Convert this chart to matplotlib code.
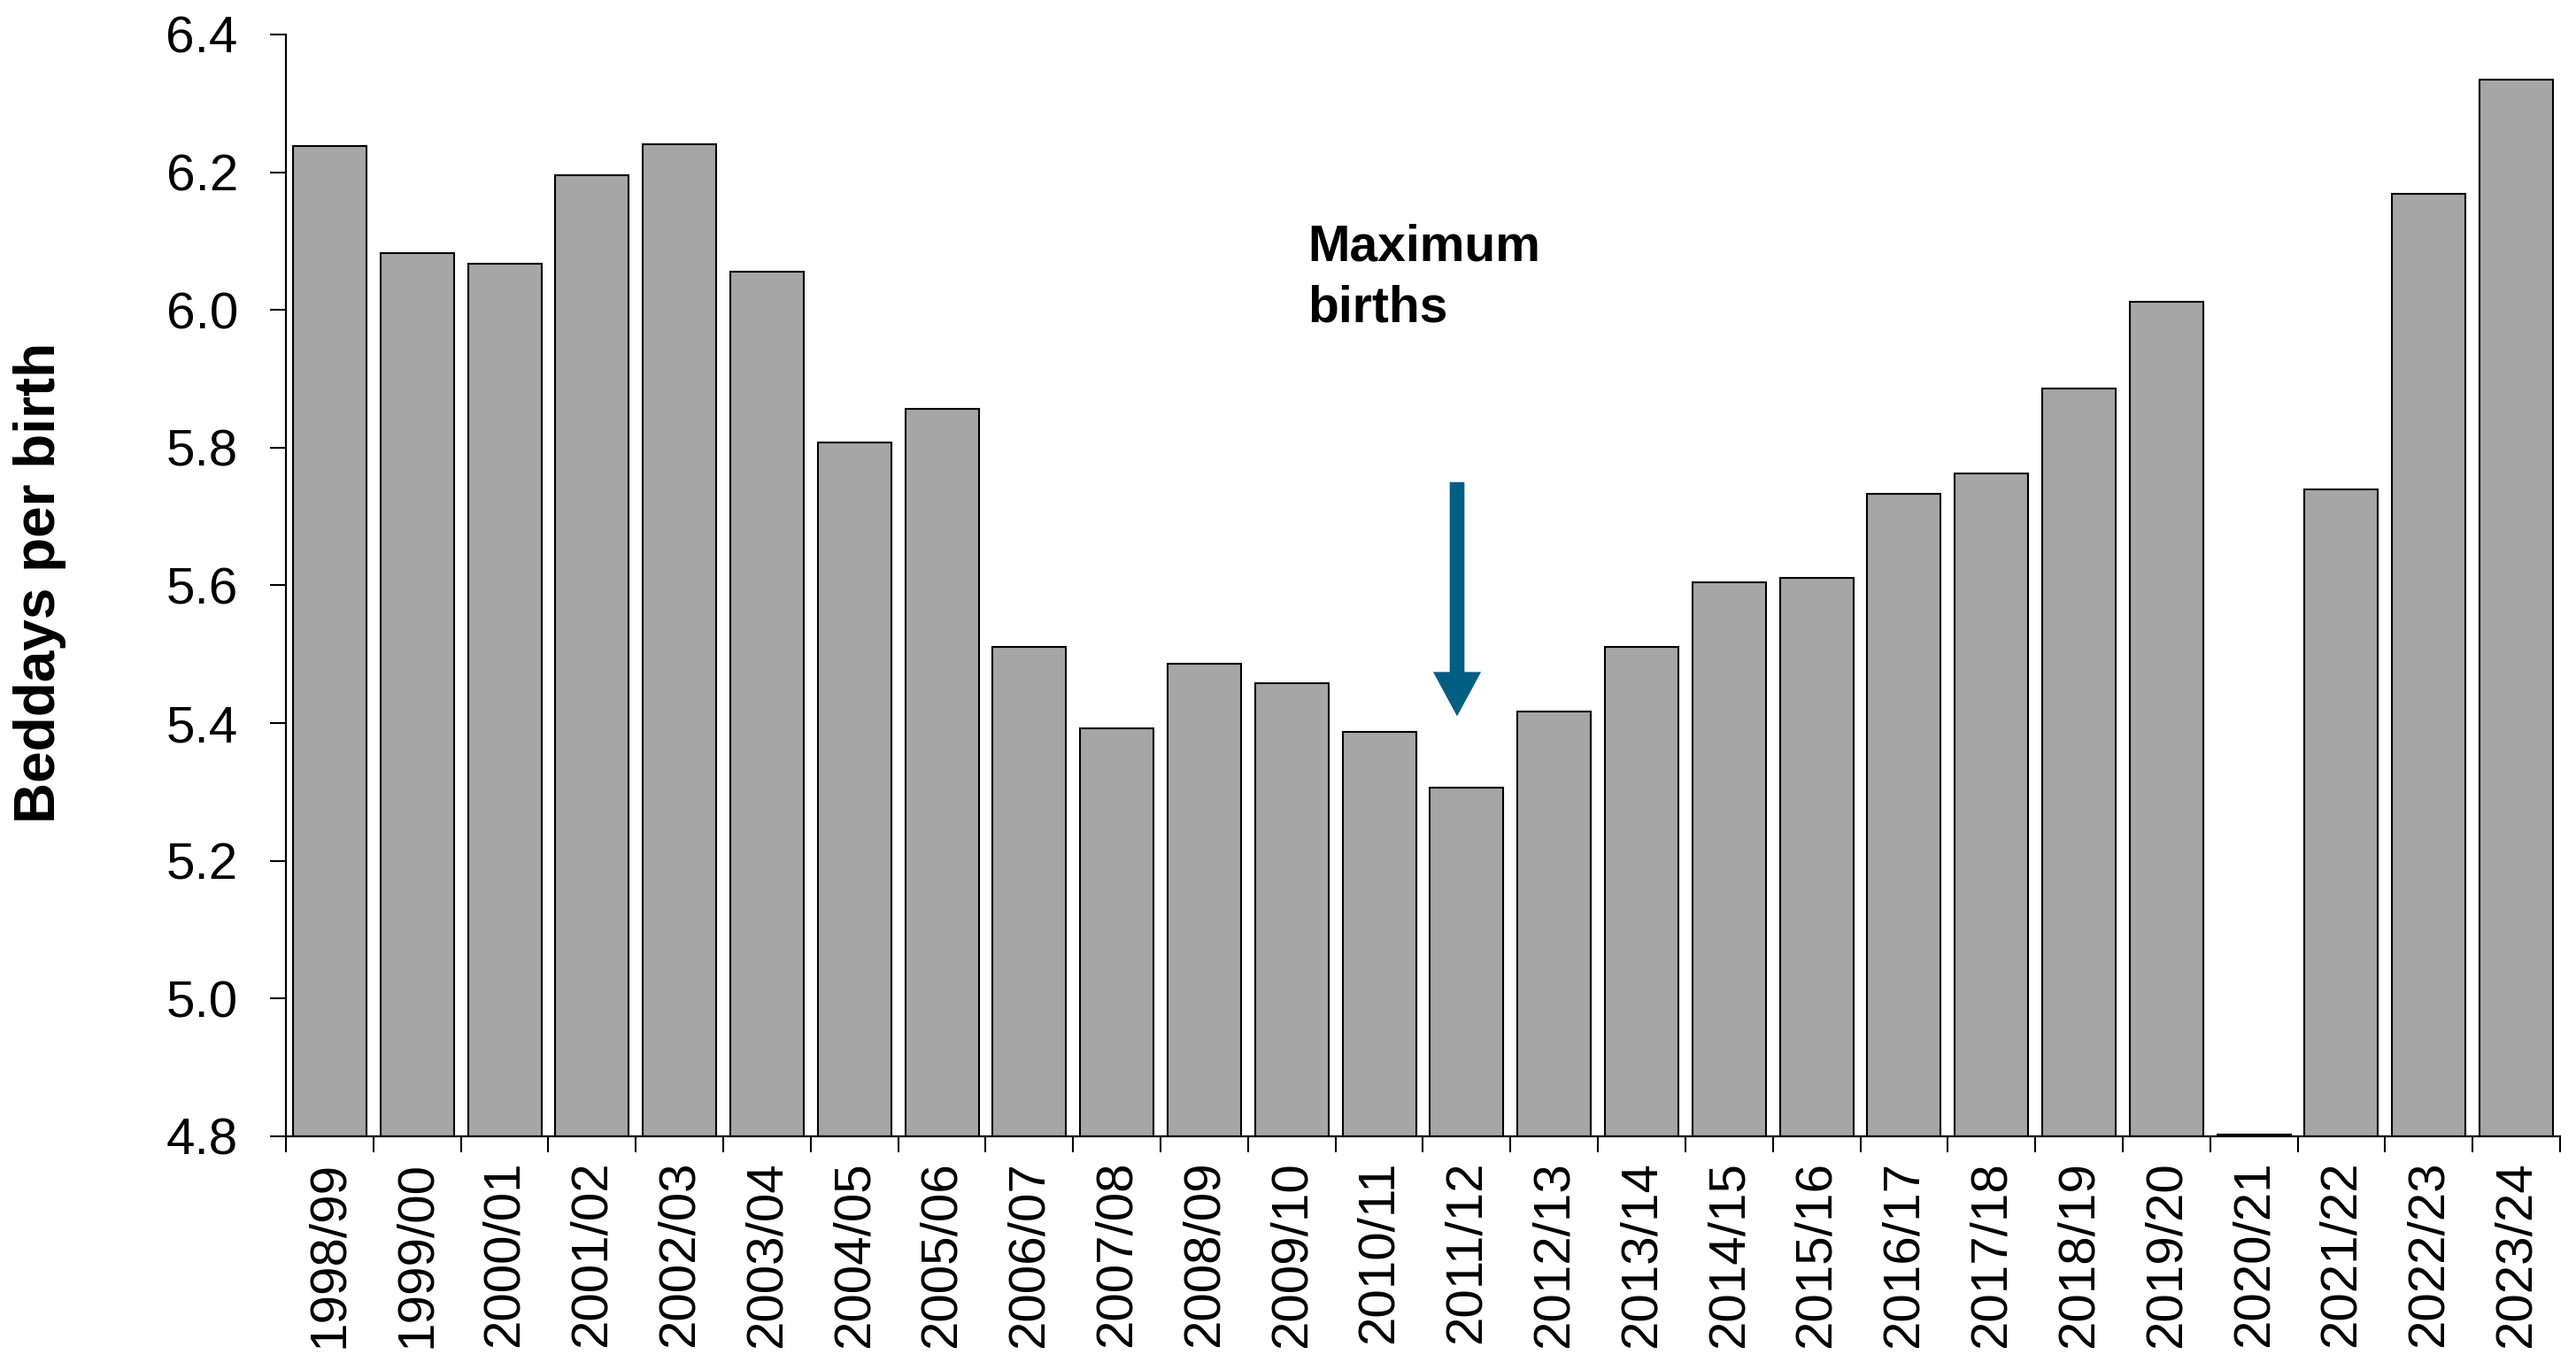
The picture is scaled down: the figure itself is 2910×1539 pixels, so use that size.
import matplotlib
matplotlib.use("Agg")
import matplotlib.pyplot as plt
import numpy as np

years = ["1998/99", "1999/00", "2000/01", "2001/02", "2002/03", "2003/04", "2004/05",
         "2005/06", "2006/07", "2007/08", "2008/09", "2009/10", "2010/11", "2011/12",
         "2012/13", "2013/14", "2014/15", "2015/16", "2016/17", "2017/18", "2018/19",
         "2019/20", "2020/21", "2021/22", "2022/23", "2023/24"]
beddays = [6.238, 6.083, 6.067, 6.195, 6.241, 6.055, 5.808, 5.856, 5.511, 5.392,
           5.486, 5.458, 5.387, 5.306, 5.417, 5.511, 5.604, 5.611, 5.733, 5.762,
           5.886, 6.012, 4.802, 5.740, 6.168, 6.335]
y_ticks = [4.8, 5.0, 5.2, 5.4, 5.6, 5.8, 6.0, 6.2, 6.4]
annotation_text = "Maximum\nbirths"
annot_year_index = 13

plt.rcParams['font.family'] = ['Liberation Sans', 'DejaVu Sans']

fig = plt.figure(figsize=(29.1, 15.39), dpi=100)
ax = fig.add_axes([0.111, 0.1657, 0.8828, 0.809])

x = np.arange(len(years))
ax.bar(x, beddays, width=0.84, color='#a6a6a6', edgecolor='black', linewidth=1.5)

ax.set_xlim(-0.5, len(years) - 0.5)
ax.set_ylim(y_ticks[0], y_ticks[-1])
ax.set_yticks(y_ticks)
ax.set_yticklabels([f"{v:.1f}" for v in y_ticks], fontsize=42)

ax.set_xticks(np.arange(len(years) + 1) - 0.5)
ax.set_xticklabels([])
ax.set_xticks(x, minor=True)
ax.set_xticklabels(years, minor=True, rotation=90, fontsize=42)
ax.tick_params(axis='x', which='major', length=13, width=1.5, direction='out')
ax.tick_params(axis='x', which='minor', length=0, pad=20)
ax.tick_params(axis='y', length=13, width=1.5, pad=26)

for s in ['top', 'right']:
    ax.spines[s].set_visible(False)
for s in ['left', 'bottom']:
    ax.spines[s].set_linewidth(1.6)

fig.text(0.0155, 0.572, "Beddays per birth", rotation=90, fontsize=46,
         fontweight='bold', ha='center', va='center')

# annotation
ax.text(annot_year_index - 1.82, 6.125, annotation_text, fontsize=41, fontweight='bold',
        ha='left', va='top', linespacing=1.35)
ax.annotate("", xy=(annot_year_index - 0.11, 5.41), xytext=(annot_year_index - 0.11, 5.75),
            arrowprops=dict(arrowstyle="simple,head_length=3.6,head_width=3.9,tail_width=1.2",
                            color='#005f83', shrinkA=0, shrinkB=0, lw=0))

fig.savefig("out.png", dpi=100)
